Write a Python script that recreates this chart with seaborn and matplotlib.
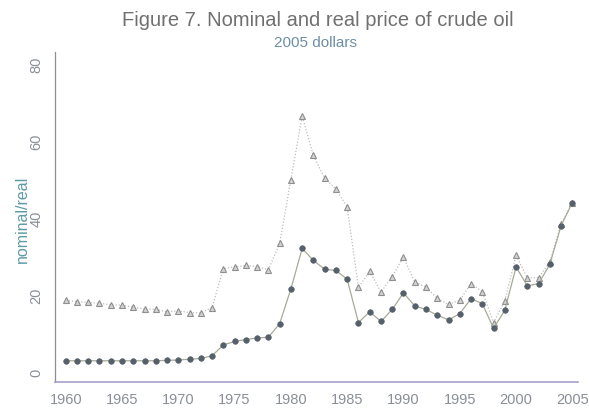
import matplotlib
matplotlib.use("Agg")
import matplotlib.pyplot as plt
import seaborn as sns
import pandas as pd
import numpy as np

years = list(range(1960, 2006))
nominal = [3.0, 3.0, 3.0, 3.0, 3.0, 3.0, 3.0, 3.0, 3.0, 3.1, 3.2, 3.4, 3.6, 4.3,
           7.1, 8.0, 8.5, 8.9, 9.1, 12.6, 21.6, 32.1, 29.0, 26.7, 26.4, 24.1,
           12.9, 15.7, 13.2, 16.3, 20.6, 17.2, 16.3, 14.8, 13.6, 15.2,
           19.1, 17.8, 11.4, 16.1, 27.3, 22.4, 23.0, 28.0, 38.0, 44.0]
real = [18.7, 18.3, 18.1, 17.9, 17.5, 17.4, 16.9, 16.4, 16.3, 15.7, 15.9, 15.5, 15.4, 16.8,
        26.9, 27.3, 27.7, 27.4, 26.6, 33.4, 49.9, 66.4, 56.2, 50.3, 47.5, 42.8,
        22.0, 26.2, 20.8, 24.8, 29.9, 23.4, 22.1, 19.2, 17.6, 18.7,
        23.0, 20.9, 12.9, 18.5, 30.3, 24.5, 24.5, 28.6, 38.5, 44.0]
x_ticks = [1960, 1965, 1970, 1975, 1980, 1985, 1990, 1995, 2000, 2005]
y_ticks = [0, 20, 40, 60, 80]

df = pd.DataFrame({"year": years, "nominal": nominal, "real": real})

sns.set_theme(style="white")
plt.rcParams['font.family'] = ['Liberation Sans', 'DejaVu Sans']

fig = plt.figure(figsize=(5.89, 4.10), dpi=100)
ax = fig.add_axes([55/589, 1-383/410, (578-55)/589, (383-53)/410])

sns.lineplot(data=df, x="year", y="real", ax=ax, color="#bdbdbd", linestyle=(0, (1, 1.5)),
             linewidth=0.9, marker="^", markersize=5, markerfacecolor="#d2d2d2",
             markeredgecolor="#8e8e8e", markeredgewidth=0.8)
sns.lineplot(data=df, x="year", y="nominal", ax=ax, color="#a6ab98", linestyle="-",
             linewidth=0.9, marker="o", markersize=4, markerfacecolor="#56606a",
             markeredgecolor="#56606a", markeredgewidth=0.5)

ax.set_xlim(1959.05, 2005.5)
ax.set_ylim(-2.5, 83)
ax.set_xticks(x_ticks)
ax.set_yticks(y_ticks)
ax.set_xticklabels([str(t) for t in x_ticks], fontsize=10.5)
ax.set_yticklabels([str(t) for t in y_ticks], fontsize=10.5, rotation=90, va="center")
ax.tick_params(axis="both", direction="out", length=4.3, width=0.8, colors="#8f8f8f",
               labelcolor="#8a8f98", pad=3)
ax.tick_params(axis="y", pad=4)
for s in ["top", "right"]:
    ax.spines[s].set_visible(False)
ax.spines["left"].set_color("#8f8f8f")
ax.spines["left"].set_linewidth(0.9)
ax.spines["bottom"].set_color("#a9a0c8")
ax.spines["bottom"].set_linewidth(1.2)
ax.set_xlabel("")
ax.set_ylabel("")

fig.text(318/589, 1-21/410, "Figure 7. Nominal and real price of crude oil",
         ha="center", va="center", fontsize=14.5, color="#707070")
fig.text(316/589, 1-43/410, "2005 dollars", ha="center", va="center",
         fontsize=11, color="#6d8fa3")
fig.text(22/589, 1-219/410, "nominal/real", ha="center", va="center", rotation=90,
         fontsize=11.5, color="#5d9aa5")

fig.savefig("out.png", dpi=100)
